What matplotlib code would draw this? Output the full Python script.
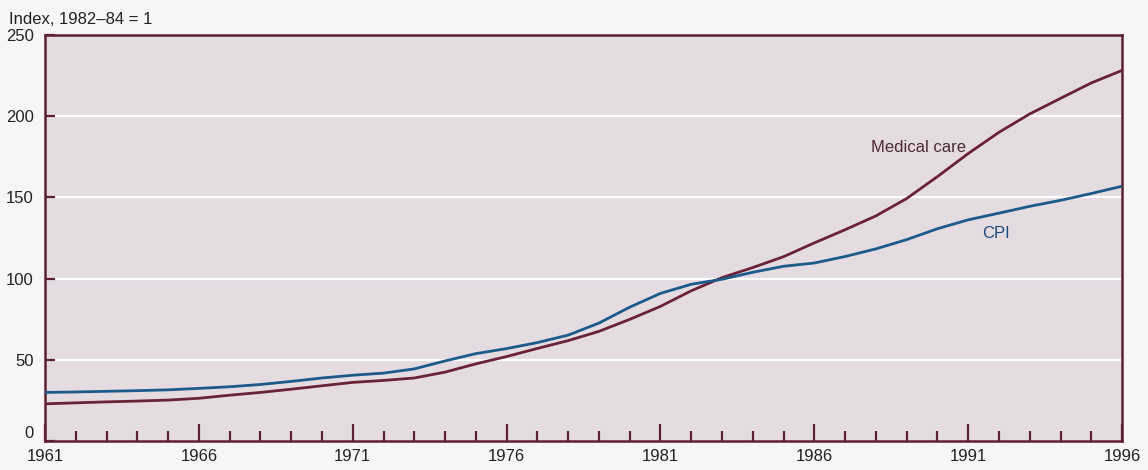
import numpy as np
import matplotlib.pyplot as plt
from matplotlib.ticker import MultipleLocator

##data
years = list(range(1961, 1997))
cpi = [29.9, 30.2, 30.6, 31.0, 31.5, 32.4, 33.4, 34.8, 36.7, 38.8,
       40.5, 41.8, 44.4, 49.3, 53.8, 56.9, 60.6, 65.2, 72.6, 82.4,
       90.9, 96.5, 99.6, 103.9, 107.6, 109.6, 113.6, 118.3, 124.0, 130.7,
       136.2, 140.3, 144.5, 148.2, 152.4, 156.9]
medical = [22.9, 23.5, 24.1, 24.6, 25.2, 26.3, 28.2, 29.9, 31.9, 34.0,
           36.1, 37.3, 38.8, 42.4, 47.5, 52.0, 57.0, 61.8, 67.5, 74.9,
           82.9, 92.5, 100.6, 106.8, 113.5, 122.0, 130.1, 138.6, 149.3, 162.8,
           177.0, 190.1, 201.4, 211.0, 220.5, 228.2]
ytick_vals = [0, 50, 100, 150, 200, 250]
xtick_vals = [1961, 1966, 1971, 1976, 1981, 1986, 1991, 1996]

plt.rcParams['font.family'] = ['Liberation Sans', 'DejaVu Sans']

maroon = '#5e1f30'
blue = '#1d5a8c'
fs = 12

fig = plt.figure(figsize=(11.48, 4.70), dpi=100)
fig.patch.set_facecolor('#f7f5f6')
ax = fig.add_axes([0.0392, 0.0617, 0.9382, 0.8638])
ax.set_facecolor('#e5dce2')

for v in ytick_vals[1:-1]:
    ax.axhline(v, color='white', linewidth=1.6, zorder=1)

ax.plot(years, medical, color='#6a2236', linewidth=2.0, zorder=3)
ax.plot(years, cpi, color=blue, linewidth=2.0, zorder=3)

ax.set_xlim(1961, 1996)
ax.set_ylim(0, 250)

ax.set_yticks(ytick_vals)
ax.set_xticks(xtick_vals)
ax.xaxis.set_minor_locator(MultipleLocator(1))
ax.tick_params(axis='x', which='major', direction='in', length=12, width=1.6,
               color=maroon, labelsize=fs, pad=6, labelcolor='#222222')
ax.tick_params(axis='x', which='minor', direction='in', length=7, width=1.6,
               color=maroon)
ax.tick_params(axis='y', direction='in', length=7, width=1.6, color=maroon,
               labelsize=fs, pad=8, labelcolor='#222222')
for s in ax.spines.values():
    s.set_color(maroon)
    s.set_linewidth(1.8)

# nudge the "0" label up so it clears the 1961 label
ylabels = ax.get_yticklabels()
ylabels[0].set_verticalalignment('bottom')

ax.text(1989.4, 181, 'Medical care', fontsize=fs, color='#4a2a35',
        ha='center', va='center')
ax.text(1991.9, 128, 'CPI', fontsize=fs, color='#1d4a7a',
        ha='center', va='center')

fig.text(0.008, 0.958, 'Index, 1982\u201284 = 1', fontsize=fs, ha='left', va='center',
         color='#222222')

fig.savefig('out.png', dpi=100, facecolor=fig.get_facecolor())
